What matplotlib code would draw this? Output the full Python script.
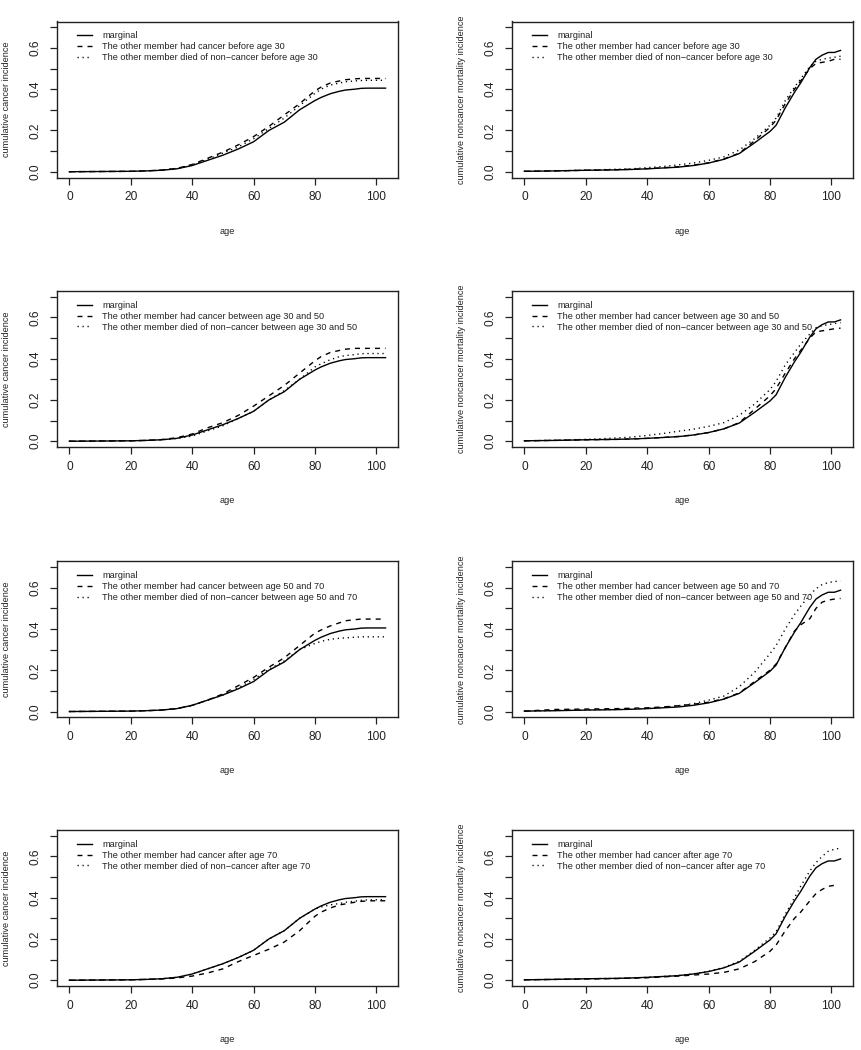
import numpy as np
import matplotlib
matplotlib.use("Agg")
import matplotlib.pyplot as plt
from matplotlib import font_manager as fm

# make sure the regular (not Narrow) Liberation Sans is chosen
fm.fontManager.ttflist = [f for f in fm.fontManager.ttflist if "Narrow" not in f.fname]
plt.rcParams['font.family'] = ['Liberation Sans', 'DejaVu Sans']

ages = [0, 10, 20, 25, 30, 35, 40, 45, 50, 55, 60, 65, 70, 75, 80, 82, 85, 88, 90, 93, 95, 97, 99, 101, 103]

cancer_marginal = [0, 0.001, 0.002, 0.004, 0.007, 0.014, 0.03, 0.055, 0.08, 0.11, 0.145, 0.2, 0.24, 0.3, 0.345,
                   0.36, 0.378, 0.39, 0.396, 0.4, 0.404, 0.405, 0.405, 0.405, 0.405]
noncancer_marginal = [0.002, 0.004, 0.007, 0.008, 0.009, 0.011, 0.014, 0.018, 0.022, 0.03, 0.042, 0.06, 0.088, 0.14,
                      0.195, 0.225, 0.31, 0.385, 0.43, 0.505, 0.545, 0.565, 0.578, 0.578, 0.588]

cancer_had_cancer = [
    [0, 0.001, 0.002, 0.004, 0.008, 0.016, 0.035, 0.065, 0.095, 0.13, 0.17, 0.22, 0.275, 0.33, 0.392, 0.41, 0.43,
     0.44, 0.446, 0.45, 0.452, 0.452, 0.452, 0.452, 0.452],
    [0, 0.001, 0.002, 0.004, 0.008, 0.017, 0.035, 0.065, 0.09, 0.125, 0.17, 0.22, 0.27, 0.33, 0.39, 0.41, 0.43,
     0.44, 0.446, 0.45, 0.45, 0.45, 0.45, 0.45, 0.45],
    [0, 0.001, 0.002, 0.004, 0.007, 0.014, 0.03, 0.055, 0.085, 0.125, 0.165, 0.215, 0.26, 0.32, 0.38, 0.395, 0.415,
     0.43, 0.44, 0.445, 0.448, 0.448, 0.448, 0.448, 0.448],
    [0, 0.001, 0.002, 0.004, 0.006, 0.011, 0.02, 0.035, 0.055, 0.09, 0.12, 0.15, 0.185, 0.24, 0.31, 0.33, 0.35,
     0.365, 0.37, 0.378, 0.382, 0.384, 0.385, 0.385, 0.385],
]
cancer_died_noncancer = [
    [0, 0.001, 0.002, 0.004, 0.008, 0.016, 0.033, 0.06, 0.09, 0.12, 0.16, 0.21, 0.26, 0.32, 0.38, 0.4, 0.42, 0.43,
     0.436, 0.44, 0.442, 0.443, 0.443, 0.443, 0.443],
    [0, 0.001, 0.002, 0.004, 0.007, 0.013, 0.025, 0.05, 0.075, 0.11, 0.145, 0.2, 0.245, 0.3, 0.36, 0.375, 0.395,
     0.41, 0.415, 0.42, 0.424, 0.425, 0.425, 0.425, 0.425],
    [0, 0.001, 0.002, 0.004, 0.007, 0.014, 0.03, 0.055, 0.08, 0.115, 0.155, 0.205, 0.245, 0.3, 0.33, 0.34, 0.35,
     0.355, 0.357, 0.36, 0.362, 0.362, 0.362, 0.362, 0.362],
    [0, 0.001, 0.002, 0.004, 0.007, 0.014, 0.03, 0.055, 0.08, 0.11, 0.145, 0.2, 0.24, 0.3, 0.345, 0.355, 0.365,
     0.372, 0.378, 0.383, 0.387, 0.389, 0.39, 0.39, 0.39],
]
noncancer_had_cancer = [
    [0.002, 0.004, 0.007, 0.008, 0.01, 0.012, 0.015, 0.019, 0.024, 0.032, 0.043, 0.062, 0.09, 0.15, 0.215, 0.25,
     0.33, 0.4, 0.44, 0.5, 0.525, 0.53, 0.535, 0.545, 0.545],
    [0.002, 0.004, 0.007, 0.008, 0.009, 0.011, 0.014, 0.018, 0.023, 0.03, 0.042, 0.06, 0.09, 0.155, 0.22, 0.255,
     0.33, 0.4, 0.44, 0.5, 0.53, 0.535, 0.54, 0.545, 0.548],
    [0.002, 0.01, 0.012, 0.013, 0.014, 0.016, 0.018, 0.022, 0.028, 0.035, 0.045, 0.062, 0.09, 0.145, 0.2, 0.23,
     0.31, 0.39, 0.42, 0.45, 0.5, 0.53, 0.54, 0.545, 0.548],
    [0.002, 0.004, 0.006, 0.007, 0.008, 0.01, 0.012, 0.016, 0.02, 0.025, 0.03, 0.038, 0.055, 0.09, 0.14, 0.17,
     0.24, 0.3, 0.33, 0.385, 0.42, 0.44, 0.455, 0.46, np.nan],
]
noncancer_died_noncancer = [
    [0.002, 0.004, 0.008, 0.01, 0.012, 0.014, 0.02, 0.025, 0.033, 0.042, 0.055, 0.072, 0.105, 0.16, 0.225, 0.26,
     0.345, 0.41, 0.45, 0.51, 0.535, 0.545, 0.55, 0.555, 0.56],
    [0.002, 0.005, 0.009, 0.012, 0.016, 0.02, 0.028, 0.037, 0.048, 0.058, 0.072, 0.09, 0.125, 0.18, 0.25, 0.29,
     0.37, 0.43, 0.47, 0.52, 0.55, 0.56, 0.565, 0.57, 0.575],
    [0.002, 0.005, 0.008, 0.009, 0.01, 0.012, 0.015, 0.02, 0.028, 0.038, 0.055, 0.075, 0.12, 0.19, 0.28, 0.32,
     0.4, 0.47, 0.51, 0.565, 0.595, 0.615, 0.625, 0.63, 0.632],
    [0.002, 0.004, 0.007, 0.008, 0.009, 0.011, 0.014, 0.018, 0.023, 0.031, 0.043, 0.062, 0.092, 0.145, 0.205,
     0.235, 0.32, 0.4, 0.455, 0.53, 0.57, 0.6, 0.625, 0.635, 0.64],
]

periods = ["before age 30", "between age 30 and 50", "between age 50 and 70", "after age 70"]
legend_first = "marginal"
legend_had = "The other member had cancer "
legend_died = "The other member died of non\u2212cancer "
ylabel_left = "cumulative cancer incidence"
ylabel_right = "cumulative noncancer mortality incidence"
xlabel = "age"
xticks = [0, 20, 40, 60, 80, 100]
yticks = [0.0, 0.1, 0.2, 0.3, 0.4, 0.5, 0.6, 0.7]
yticklabels = ["0.0", "", "0.2", "", "0.4", "", "0.6", ""]

W, H = 861, 1050
fig = plt.figure(figsize=(W / 100, H / 100), dpi=100)

col_left = [56.7, 511.7]
ax_w = 341.5
row_top = [21.5, 291.0, 561.3, 830.0]
ax_h = 156.0

DASH = (0, (3.6, 3.6))
DOT = (0, (0.9, 2.7))
ink = "#222222"

for r in range(4):
    for c in range(2):
        left = col_left[c] / W
        bottom = 1 - (row_top[r] + ax_h) / H
        ax = fig.add_axes([left, bottom, ax_w / W, ax_h / H])
        if c == 0:
            m, d1, d2, yl = cancer_marginal, cancer_had_cancer[r], cancer_died_noncancer[r], ylabel_left
        else:
            m, d1, d2, yl = noncancer_marginal, noncancer_had_cancer[r], noncancer_died_noncancer[r], ylabel_right
        ax.plot(ages, m, color="black", lw=1.0, ls="-", label=legend_first)
        ax.plot(ages, d1, color="black", lw=1.0, ls=DASH, label=legend_had + periods[r])
        ax.plot(ages, d2, color="black", lw=1.0, ls=DOT, label=legend_died + periods[r])
        ax.set_xlim(-4.12, 107.12)
        ax.set_ylim(-0.028, 0.728)
        ax.set_xticks(xticks)
        ax.set_xticklabels([str(t) for t in xticks])
        ax.set_yticks(yticks)
        ax.set_yticklabels(yticklabels, rotation=90, va="center")
        ax.tick_params(axis="both", direction="out", length=5, width=0.9, colors=ink,
                       labelsize=8.6, labelcolor=ink)
        ax.tick_params(axis="x", pad=5)
        ax.tick_params(axis="y", pad=6)
        for s in ax.spines.values():
            s.set_linewidth(1.0)
            s.set_color(ink)
        ax.set_ylabel(yl, fontsize=6.6, color=ink, va="center")
        ax.yaxis.set_label_coords(-50 / ax_w, 0.5)
        ax.set_xlabel(xlabel, fontsize=6.6, color=ink, va="center")
        ax.xaxis.set_label_coords(0.5, -53.5 / ax_h)
        leg = ax.legend(loc="upper left", bbox_to_anchor=(20 / ax_w, 1 - 10 / ax_h), frameon=False,
                        fontsize=6.6, handlelength=1.65, handletextpad=1.1, labelspacing=0.2,
                        borderpad=0, borderaxespad=0)
        for t in leg.get_texts():
            t.set_color(ink)

fig.savefig("out.png", dpi=100)
